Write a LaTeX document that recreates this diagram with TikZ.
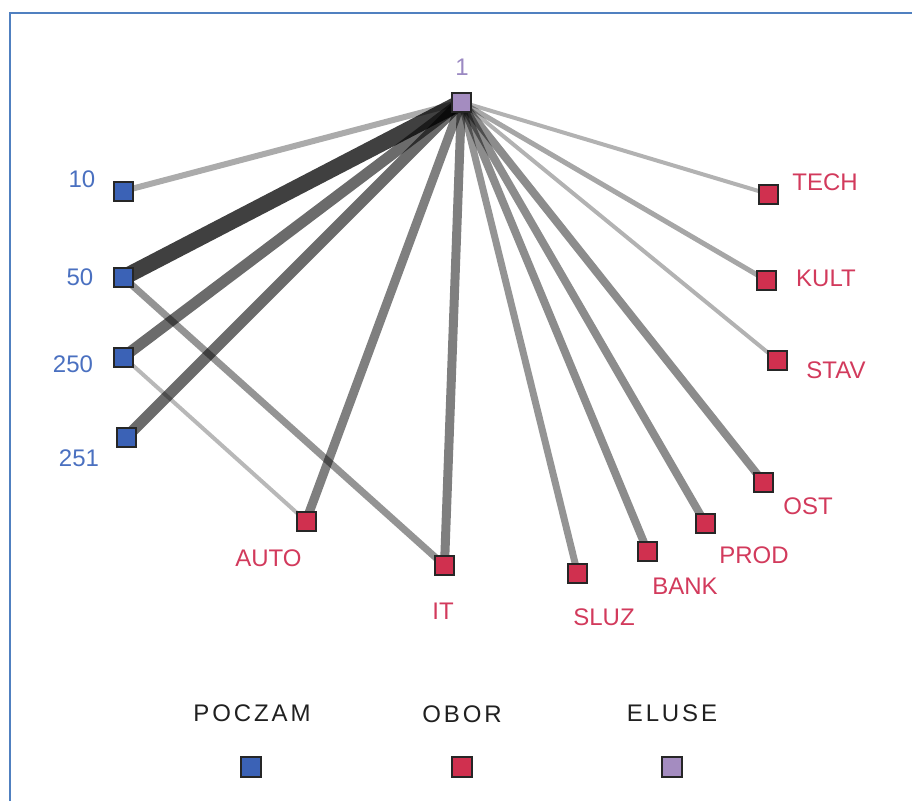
\documentclass[tikz,border=0pt]{standalone}
\usepackage{fontspec}
\setmainfont{Liberation Sans}
\newfontfamily\legendfont[LetterSpace=12]{Liberation Sans}
\usetikzlibrary{backgrounds}

\definecolor{frameblue}{HTML}{5080C0}
\definecolor{pozblue}{HTML}{3B62B6}
\definecolor{pozlabel}{HTML}{4A70C0}
\definecolor{oborred}{HTML}{D0304F}
\definecolor{oborlabel}{HTML}{D23A5C}
\definecolor{elpurple}{HTML}{A48CC0}
\definecolor{ellabel}{HTML}{9B89C2}
\definecolor{legendtext}{HTML}{202020}

\tikzset{
  vert/.style={rectangle, draw=black!85, line width=2pt, minimum size=19pt, inner sep=0pt},
  poczam/.style={vert, fill=pozblue},
  obor/.style={vert, fill=oborred},
  eluse/.style={vert, fill=elpurple},
  keybox/.style={vert, minimum size=20pt},
  lbl/.style={inner sep=0pt, font=\fontsize{24}{28}\selectfont},
  plbl/.style={lbl, text=pozlabel},
  olbl/.style={lbl, text=oborlabel},
  elbl/.style={lbl, text=ellabel},
  keytext/.style={inner sep=0pt, text=legendtext, font=\legendfont\fontsize{24}{28}\selectfont},
  tie/.style={draw=black, line cap=butt},
}

\begin{document}
\begin{tikzpicture}[x=1pt, y=-1pt]
\useasboundingbox (0,0) rectangle (912,801);

% panel border (left and top edges)
\draw[frameblue, line width=2pt] (9.5,801) -- (9.5,13) -- (912,13);

% hub
\node[eluse] (hub) at (461.5,102) {};
\node[elbl] (lhub) at (462,67) {1};

% POCZAM vertices
\node[poczam] (p10)  at (123.5,191) {};
\node[poczam] (p50)  at (123.5,277.5) {};
\node[poczam] (p250) at (123.5,357) {};
\node[poczam] (p251) at (126.5,437) {};
\node[plbl] (l10)  at (82,179) {10};
\node[plbl] (l50)  at (80,277) {50};
\node[plbl] (l250) at (73,364) {250};
\node[plbl] (l251) at (79,458) {251};

% OBOR vertices
\node[obor] (tech) at (768.5,194) {};
\node[obor] (kult) at (766,280) {};
\node[obor] (stav) at (777,360) {};
\node[obor] (ost)  at (763.5,482) {};
\node[obor] (prod) at (705.5,523.5) {};
\node[obor] (bank) at (647.5,551) {};
\node[obor] (sluz) at (577.5,573) {};
\node[obor] (it)   at (444.5,565.5) {};
\node[obor] (auto) at (306,521) {};
\node[olbl] (ltech) at (825,182) {TECH};
\node[olbl] (lkult) at (826,278) {KULT};
\node[olbl] (lstav) at (836,370) {STAV};
\node[olbl] (lost)  at (808,506) {OST};
\node[olbl] (lprod) at (754,555) {PROD};
\node[olbl] (lbank) at (685,586) {BANK};
\node[olbl] (lsluz) at (604,617) {SLUZ};
\node[olbl] (lit)   at (443,611) {IT};
\node[olbl] (lauto) at (268.5,558) {AUTO};

% legend
\node[keytext] (kpoc) at (252,713) {POCZAM};
\node[keytext] (kobo) at (462,714) {OBOR};
\node[keytext] (kelu) at (672,713) {ELUSE};
\node[keybox, fill=pozblue]  (bpoc) at (250.5,767) {};
\node[keybox, fill=oborred]  (bobo) at (461.5,767) {};
\node[keybox, fill=elpurple] (belu) at (672,767) {};

% weighted ties, drawn beneath the vertices
\begin{scope}[on background layer]
\draw[tie, line width=6pt,  draw opacity=0.33] (hub.center) -- (p10.center);
\draw[tie, line width=16pt, draw opacity=0.75] (hub.center) -- (p50.center);
\draw[tie, line width=11pt, draw opacity=0.58] (hub.center) -- (p250.center);
\draw[tie, line width=11pt, draw opacity=0.58] (hub.center) -- (p251.center);
\draw[tie, line width=7pt,  draw opacity=0.42] (p50.center) -- (it.center);
\draw[tie, line width=4pt,  draw opacity=0.28] (p250.center) -- (auto.center);
\draw[tie, line width=9pt,  draw opacity=0.50] (hub.center) -- (auto.center);
\draw[tie, line width=9pt,  draw opacity=0.50] (hub.center) -- (it.center);
\draw[tie, line width=7pt,  draw opacity=0.42] (hub.center) -- (sluz.center);
\draw[tie, line width=8pt,  draw opacity=0.45] (hub.center) -- (bank.center);
\draw[tie, line width=8pt,  draw opacity=0.45] (hub.center) -- (prod.center);
\draw[tie, line width=8pt,  draw opacity=0.45] (hub.center) -- (ost.center);
\draw[tie, line width=4pt,  draw opacity=0.30] (hub.center) -- (stav.center);
\draw[tie, line width=5pt,  draw opacity=0.35] (hub.center) -- (kult.center);
\draw[tie, line width=4pt,  draw opacity=0.30] (hub.center) -- (tech.center);
\end{scope}
\end{tikzpicture}
\end{document}
